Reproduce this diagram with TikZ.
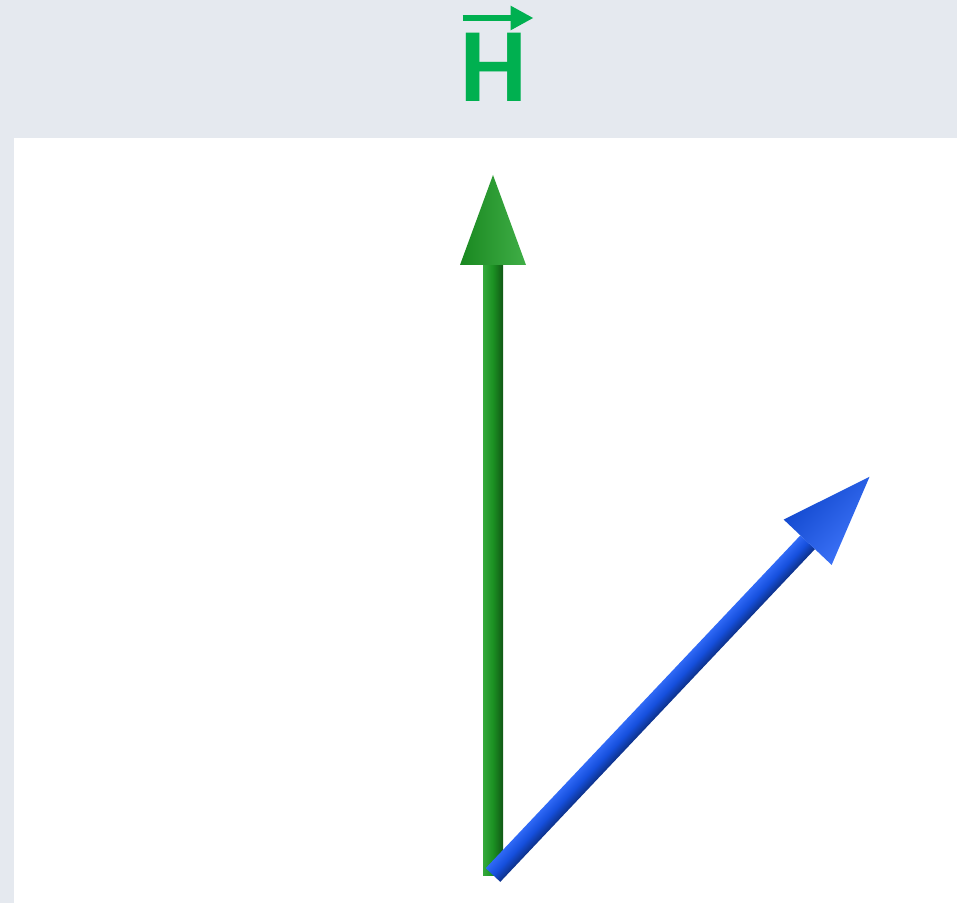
\documentclass[tikz,border=0pt]{standalone}
\usepackage{fontspec}
\setsansfont{Carlito}
\usetikzlibrary{arrows.meta,calc}
\definecolor{bandgray}{RGB}{229,233,239}
\definecolor{labelgreen}{RGB}{0,176,80}
\definecolor{arrowgreen}{RGB}{30,160,38}
\definecolor{arrowblue}{RGB}{24,88,245}
\begin{document}
\begin{tikzpicture}[x=0.02cm,y=0.02cm]
	\useasboundingbox (0,0) rectangle (957,903);
	\fill[bandgray] (0,0) rectangle (957,903);
	\fill[white] (14,0) rectangle (957,765);
	\coordinate (origin) at (493,28);
	\node[text=labelgreen,inner sep=0pt,font=\sffamily\bfseries\fontsize{60}{60}\selectfont] (hlabel) at (493.5,836) {H};
	\draw[labelgreen,line width=0.13cm,-{Triangle[length=0.46cm,width=0.46cm]}] ($(hlabel.center)+(-31,49)$) -- ($(hlabel.center)+(40,49)$);
	\foreach \ang/\len/\col in {90/700/arrowgreen,46.6/548/arrowblue}{
		\begin{scope}[transform canvas={shift={(origin)},rotate=\ang}]
			\shade[top color=\col!90!white,bottom color=\col!55!black,middle color=\col!90!black] (0,-10) rectangle (\len-90,10);
			\shade[top color=\col!85!black,bottom color=\col!85!white] (\len-90,-33) -- (\len,0) -- (\len-90,33) -- cycle;
		\end{scope}
	}
\end{tikzpicture}
\end{document}
